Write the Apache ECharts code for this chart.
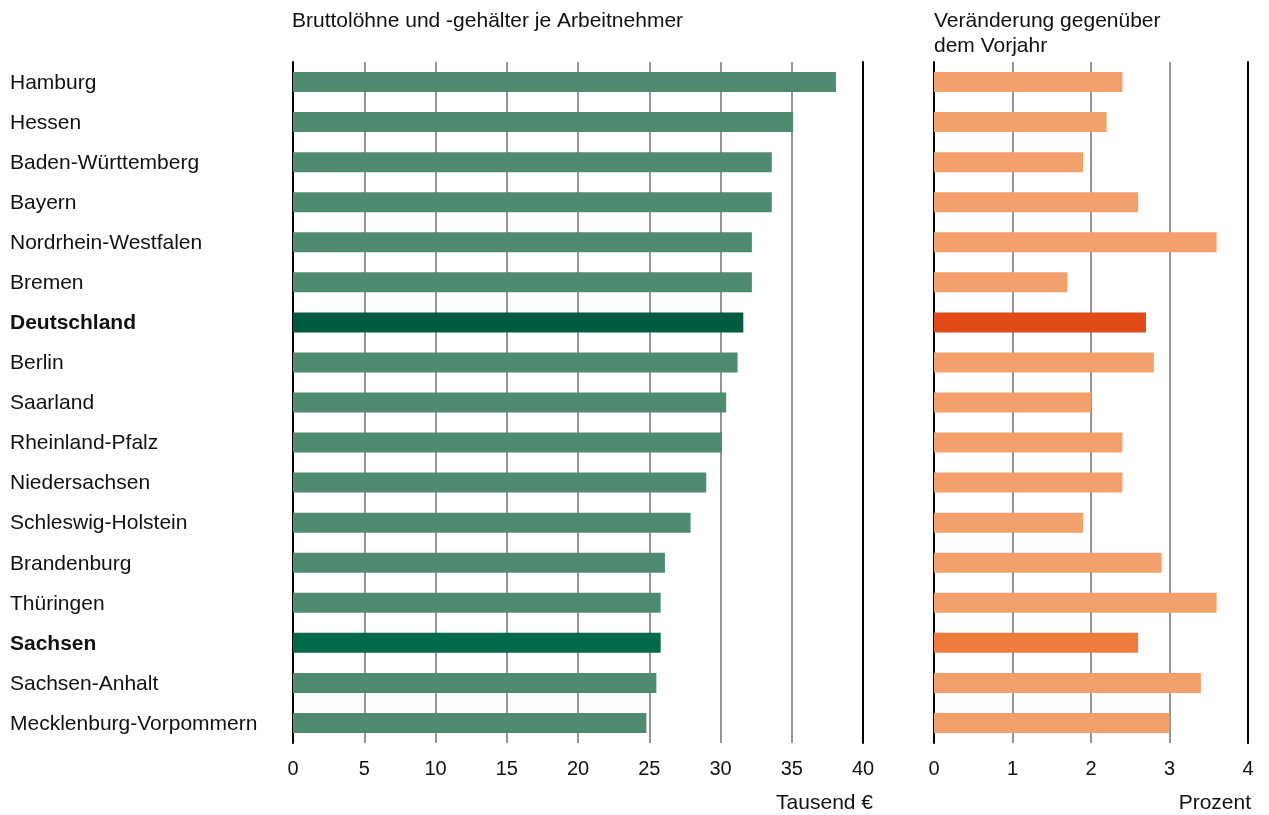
<!DOCTYPE html>
<html>
<head>
<meta charset="utf-8">
<script src="https://cdn.jsdelivr.net/npm/echarts@6/dist/echarts.min.js"></script>
<style>
  html, body { margin: 0; padding: 0; background: #fff; }
  #chart { width: 1269px; height: 815px; }
</style>
</head>
<body>
<div id="chart"></div>
<script>
// Bundesländer, sortiert nach Bruttolöhnen je Arbeitnehmer
const categories = [
  'Hamburg', 'Hessen', 'Baden-Württemberg', 'Bayern', 'Nordrhein-Westfalen',
  'Bremen', 'Deutschland', 'Berlin', 'Saarland', 'Rheinland-Pfalz',
  'Niedersachsen', 'Schleswig-Holstein', 'Brandenburg', 'Thüringen',
  'Sachsen', 'Sachsen-Anhalt', 'Mecklenburg-Vorpommern'
];
// Bruttolöhne und -gehälter je Arbeitnehmer (Tausend €)
const wages = [38.1, 35.1, 33.6, 33.6, 32.2, 32.2, 31.6, 31.2, 30.4, 30.1, 29.0, 27.9, 26.1, 25.8, 25.8, 25.5, 24.8];
// Veränderung gegenüber dem Vorjahr (Prozent)
const change = [2.4, 2.2, 1.9, 2.6, 3.6, 1.7, 2.7, 2.8, 2.0, 2.4, 2.4, 1.9, 2.9, 3.6, 2.6, 3.4, 3.0];
const highlighted = ['Deutschland', 'Sachsen'];

const FONT = '"Liberation Sans", Arial, sans-serif';
const TEXT = '#111';

const leftColors = { default: '#4f8b71', Deutschland: '#005a40', Sachsen: '#006a4b' };
const rightColors = { default: '#f4a06c', Deutschland: '#e04b17', Sachsen: '#ef7c3e' };

function barData(values, colors) {
  return values.map((v, i) => ({
    value: v,
    itemStyle: { color: colors[categories[i]] || colors.default }
  }));
}

const chart = echarts.init(document.getElementById('chart'), null, { renderer: 'canvas' });

const gridTop = 62, gridBottom = 72;
const headStyle = { fontFamily: FONT, fontSize: 21, fontWeight: 'normal', color: TEXT, lineHeight: 25 };
const unitStyle = { fontFamily: FONT, fontSize: 21, fontWeight: 'normal', color: TEXT };

chart.setOption({
  animation: false,
  textStyle: { fontFamily: FONT },
  title: [
    { text: 'Bruttolöhne und -gehälter je Arbeitnehmer', left: 292, top: 9, padding: 0, textStyle: headStyle },
    { text: 'Veränderung gegenüber\ndem Vorjahr', left: 934, top: 9, padding: 0, textStyle: headStyle },
    { text: 'Tausend €', right: 396, top: 793, padding: 0, textStyle: unitStyle },
    { text: 'Prozent', right: 18, top: 793, padding: 0, textStyle: unitStyle }
  ],
  grid: [
    { left: 293, right: 406, top: gridTop, bottom: gridBottom },
    { left: 934, right: 21, top: gridTop, bottom: gridBottom }
  ],
  xAxis: [0, 1].map(g => ({
    type: 'value',
    gridIndex: g,
    min: 0,
    max: g === 0 ? 40 : 4,
    interval: g === 0 ? 5 : 1,
    axisLine: { show: false },
    axisTick: { show: false },
    axisLabel: { fontFamily: FONT, fontSize: 20, color: TEXT, margin: 16 },
    splitLine: { show: true, showMinLine: false, showMaxLine: false,
      lineStyle: { color: '#959595', width: 2 } }
  })),
  yAxis: [
    {
      type: 'category', gridIndex: 0, data: categories, inverse: true,
      axisLine: { show: true, lineStyle: { color: '#000', width: 2 } },
      axisTick: { show: false },
      axisLabel: {
        margin: 283, align: 'left', fontFamily: FONT, fontSize: 21, color: TEXT,
        padding: [2, 0, 0, 0],
        formatter: v => highlighted.includes(v) ? '{b|' + v + '}' : v,
        rich: { b: { fontFamily: FONT, fontSize: 21, fontWeight: 'bold', color: TEXT } }
      }
    },
    {
      type: 'category', gridIndex: 0, data: categories, inverse: true, position: 'right',
      axisLine: { show: true, lineStyle: { color: '#000', width: 2 } },
      axisTick: { show: false }, axisLabel: { show: false }
    },
    {
      type: 'category', gridIndex: 1, data: categories, inverse: true,
      axisLine: { show: true, lineStyle: { color: '#000', width: 2 } },
      axisTick: { show: false }, axisLabel: { show: false }
    },
    {
      type: 'category', gridIndex: 1, data: categories, inverse: true, position: 'right',
      axisLine: { show: true, lineStyle: { color: '#000', width: 2 } },
      axisTick: { show: false }, axisLabel: { show: false }
    }
  ],
  series: [
    { type: 'bar', xAxisIndex: 0, yAxisIndex: 0, barWidth: 20, data: barData(wages, leftColors) },
    { type: 'bar', xAxisIndex: 1, yAxisIndex: 2, barWidth: 20, data: barData(change, rightColors) }
  ]
});
</script>
</body>
</html>
